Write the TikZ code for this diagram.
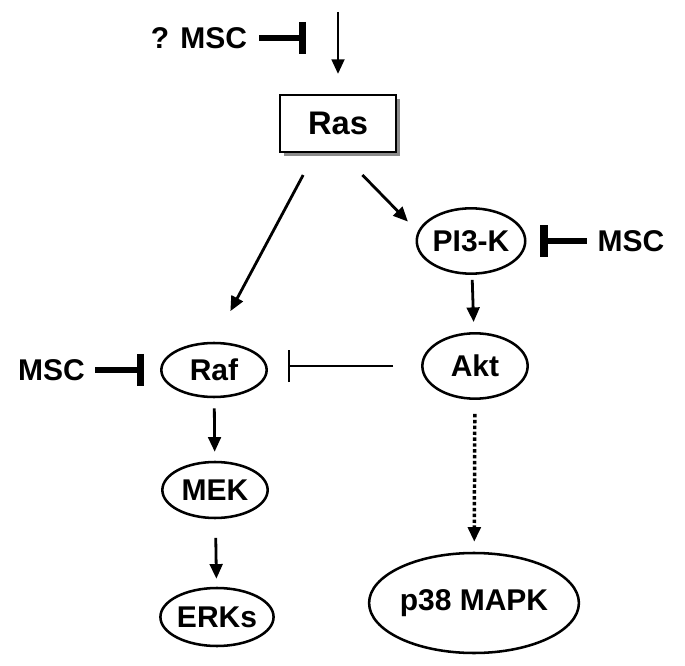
\documentclass[tikz,border=0pt]{standalone}
\usepackage{fontspec}
\setmainfont{Liberation Sans}
\usetikzlibrary{positioning, arrows.meta, calc, shapes.geometric, shadows}

\begin{document}
\begin{tikzpicture}[x=0.75pt, y=-0.75pt, >=Triangle,
  lbl/.style={font=\fontsize{22.5}{27}\selectfont\bfseries, inner sep=0pt},
  enz/.style={lbl, draw, ellipse, line width=1.9pt, minimum width=79pt, minimum height=41pt},
  act/.style={line width=2.1pt, -{Triangle[length=11pt, width=9.5pt]}},
  inh/.style={line width=4.5pt, -{Bar[width=24pt, line width=5.5pt]}},
  weak/.style={line width=1.7pt, -{Bar[width=24pt, line width=1.9pt]}}]
  \useasboundingbox (0,0) rectangle (685,666);

  % Ras box
  \node[lbl, font=\fontsize{24.5}{29}\selectfont\bfseries, draw, line width=1.3pt, fill=white,
        minimum width=87pt, minimum height=43pt,
        drop shadow={shadow xshift=3pt, shadow yshift=-3pt, fill=gray!90, opacity=1}]
        (ras) at (338,123.5) {Ras};
  \coordinate (in) at (338,12);
  \draw[act, shorten >=15pt] (in) -- (ras.north);

  % ? MSC on the input
  \node[lbl] (qmsc) at (199,38) {? MSC};
  \coordinate (qbar) at (306,38);
  \draw[inh, shorten <=9pt] (qmsc.east) -- (qbar);

  % Enzymes
  \node[enz, minimum width=81pt, minimum height=49pt] (pi3k) at (471,241) {PI3-K};
  \node[enz, minimum height=49pt] (akt) at (475,366) {Akt};
  \node[enz, minimum height=40.5pt] (raf) at (214,370) {Raf};
  \node[enz, minimum height=42pt] (mek) at (215,490) {MEK};
  \node[enz, minimum width=78pt, minimum height=43.5pt] (erks) at (217,617) {ERKs};
  \node[enz, minimum width=132pt, minimum height=75pt] (p38) at (474,603) {p38 MAPK};

  % MSC labels
  \node[lbl] (mscl) at (51.5,370) {MSC};
  \node[lbl] (mscr) at (631,241) {MSC};

  % Activations
  \draw[act, shorten <=18.7pt, shorten >=26pt] (ras.232) -- (raf.north);
  \draw[act, shorten <=23pt, shorten >=10.5pt] ($(ras.south)+(3,0)$) -- (pi3k.170);
  \draw[act, shorten <=3.75pt, shorten >=7.5pt] (pi3k) -- (akt);
  \draw[act, shorten <=7.5pt, shorten >=6.75pt] (raf) -- (mek);
  \draw[act, shorten <=14pt, shorten >=6pt] (mek) -- (erks);
  \draw[act, line width=2.6pt, dash pattern=on 2.6pt off 1.8pt, shorten <=10.5pt, shorten >=7.5pt] (akt) -- (p38);

  % Inhibitions
  \draw[inh, shorten <=7.5pt, shorten >=12pt] (mscl.east) -- (raf.west);
  \draw[inh, shorten <=8pt, shorten >=10.5pt] (mscr.west) -- (pi3k.east);
  \draw[weak, shorten <=21pt, shorten >=15pt] (akt.west) -- (akt.west -| raf.east);

\end{tikzpicture}
\end{document}
